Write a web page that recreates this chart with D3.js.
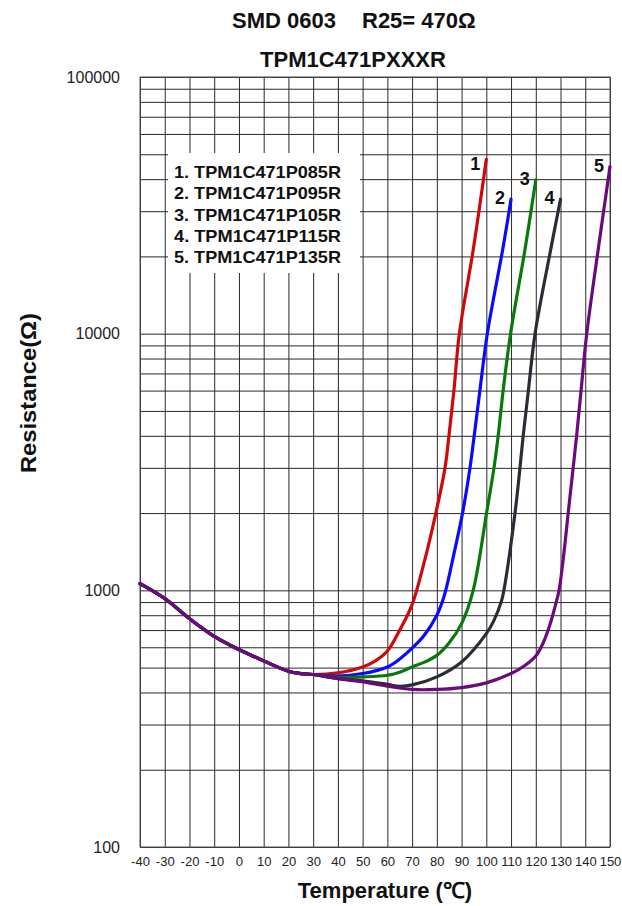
<!DOCTYPE html>
<html>
<head>
<meta charset="utf-8">
<script src="https://cdn.jsdelivr.net/npm/d3@7"></script>
<style>
  html, body { margin: 0; padding: 0; background: #fff; }
  svg { display: block; font-family: "Liberation Sans", Arial, sans-serif; }
</style>
</head>
<body>
<svg id="chart" width="622" height="906"></svg>
<script>
// ---------- data ----------
const titleLeft = "SMD 0603";
const titleRight = "R25= 470Ω";
const subTitle = "TPM1C471PXXXR";
const xTitle = "Temperature (℃)";
const yTitle = "Resistance(Ω)";

const xTicks = [-40,-30,-20,-10,0,10,20,30,40,50,60,70,80,90,100,110,120,130,140,150];
const yMajor = [100, 1000, 10000, 100000];

const seriesNames = ["1", "2", "3", "4", "5"];
const legendLabels = ["1. TPM1C471P085R", "2. TPM1C471P095R", "3. TPM1C471P105R", "4. TPM1C471P115R", "5. TPM1C471P135R"];
const seriesColors = ["#cc0a0a", "#0a0aff", "#0a780a", "#2c2c36", "#6a0a7c"];

// shared low-temperature branch
const commonT = [-40, -30, -20, -10, 0, 10, 20, 25, 30];
const commonR = [1062, 929, 776, 662, 588, 531, 484, 474, 470];

// individual branches
const s1T = [40, 50, 55, 60, 65, 70, 75, 79.6, 83.3, 84.9, 86.9, 89.1, 94.7, 100];
const s1R = [477, 503, 530, 580, 700, 880, 1300, 2000, 3000, 4000, 6000, 10000, 21200, 47800];

const s2T = [40, 50, 60, 65, 70, 75, 80, 82, 83.6, 87, 90.4, 93.4, 95.1, 97.4, 100.4, 106.6, 110];
const s2R = [463, 474, 503, 540, 595, 670, 800, 890, 1000, 1400, 2000, 3000, 4000, 6000, 10000, 21200, 33400];

const s3T = [40, 50, 60, 65.3, 70, 75, 80, 85, 90, 94.7, 100.1, 103.1, 104.8, 106.8, 109.8, 115.6, 120];
const s3R = [458, 460, 467, 481, 503, 525, 558, 625, 742, 1000, 2000, 3000, 4000, 6000, 10000, 21200, 39700];

const s4T = [40, 50, 60, 65, 70, 80, 90, 100, 103, 106.2, 107.1, 111.6, 113.6, 114.9, 117, 119.7, 126, 130];
const s4R = [453, 444, 430, 423, 428, 460, 526, 678, 760, 914, 1000, 2000, 3000, 4000, 6000, 10000, 21200, 33400];

const s5T = [40, 50, 60, 70, 80, 90, 100, 110, 115, 120, 123, 126, 128, 129.4, 131, 133.1, 135.1, 136.5, 138.3, 140.6, 145.2, 150];
const s5R = [453, 440, 423, 411, 411, 418, 436, 474, 505, 555, 625, 750, 880, 1000, 1300, 2000, 3000, 4000, 6000, 10000, 21200, 44800];

const branchT = [s1T, s2T, s3T, s4T, s5T];
const branchR = [s1R, s2R, s3R, s4R, s5R];

// ---------- layout ----------
const svg = d3.select("#chart");
const plotL = 140, plotR = 610, plotT = 77, plotB = 847;
const x = d3.scaleLinear().domain([-40, 150]).range([plotL, plotR]);
const y = d3.scaleLog().domain([100, 100000]).range([plotB, plotT]);

const yGrid = [];
for (let d = 100; d < 100000; d *= 10) {
  for (let m = 1; m <= 9; m++) yGrid.push(d * m);
}
yGrid.push(100000);

const gridColor = "#2a2a2a";

// vertical grid + x labels
const gx = svg.append("g")
  .attr("transform", `translate(0,${plotB})`)
  .call(d3.axisBottom(x).tickValues(xTicks).tickSize(-(plotB - plotT)).tickPadding(10).tickFormat(d => String(d)));
gx.select(".domain").remove();
gx.selectAll(".tick line").attr("stroke", gridColor).attr("stroke-width", 1);
gx.selectAll(".tick text").attr("font-size", 13).attr("fill", "#222")
  .attr("font-family", "'Liberation Sans', Arial, sans-serif");

// horizontal grid + y labels
const gy = svg.append("g")
  .attr("transform", `translate(${plotL},0)`)
  .call(d3.axisLeft(y).tickValues(yGrid).tickSize(-(plotR - plotL)).tickPadding(20)
    .tickFormat(v => yMajor.includes(v) ? String(v) : ""));
gy.select(".domain").remove();
gy.selectAll(".tick line").attr("stroke", gridColor).attr("stroke-width", 1);
gy.selectAll(".tick text").attr("font-size", 16).attr("fill", "#222")
  .attr("font-family", "'Liberation Sans', Arial, sans-serif");

// border
svg.append("rect")
  .attr("x", plotL).attr("y", plotT)
  .attr("width", plotR - plotL).attr("height", plotB - plotT)
  .attr("fill", "none").attr("stroke", "#555").attr("stroke-width", 1);

// legend box (white, covering grid)
const legX = 168, legY = 153, legW = 192, legH = 120;
svg.append("rect")
  .attr("x", legX).attr("y", legY).attr("width", legW).attr("height", legH)
  .attr("fill", "#fff");
svg.append("g").selectAll("text")
  .data(legendLabels)
  .join("text")
  .attr("x", legX + 6)
  .attr("y", (d, i) => legY + 24.7 + i * 21.4)
  .attr("font-size", 16.5)
  .attr("font-weight", "bold")
  .attr("fill", "#111")
  .attr("textLength", 167)
  .attr("lengthAdjust", "spacingAndGlyphs")
  .text(d => d);

// curves
const line = d3.line()
  .x(d => x(d[0]))
  .y(d => y(d[1]))
  .curve(d3.curveCatmullRom.alpha(0.5));

const seriesData = seriesNames.map((name, i) => {
  const pts = commonT.map((t, k) => [t, commonR[k]])
    .concat(branchT[i].map((t, k) => [t, branchR[i][k]]));
  return { name, color: seriesColors[i], pts };
});

svg.append("g").selectAll("path")
  .data(seriesData)
  .join("path")
  .attr("d", d => line(d.pts))
  .attr("fill", "none")
  .attr("stroke", d => d.color)
  .attr("stroke-width", 3.2)
  .attr("stroke-linejoin", "round")
  .attr("stroke-linecap", "round");

// curve end labels
svg.append("g").selectAll("text")
  .data(seriesData)
  .join("text")
  .attr("x", d => x(d.pts[d.pts.length - 1][0]) - 11)
  .attr("y", (d, i) => y(d.pts[d.pts.length - 1][1]) + (i === 0 ? 11 : 5))
  .attr("text-anchor", "middle")
  .attr("font-size", 18)
  .attr("font-weight", "bold")
  .attr("fill", "#111")
  .text(d => d.name);

// titles
svg.append("text").attr("x", 232).attr("y", 28)
  .attr("font-size", 22).attr("font-weight", "bold").attr("fill", "#111")
  .text(titleLeft);
svg.append("text").attr("x", 362).attr("y", 28)
  .attr("font-size", 22).attr("font-weight", "bold").attr("fill", "#111")
  .text(titleRight);
svg.append("text").attr("x", 353).attr("y", 67)
  .attr("text-anchor", "middle")
  .attr("font-size", 22).attr("font-weight", "bold").attr("fill", "#111")
  .text(subTitle);

// axis titles
svg.append("text").attr("x", 385).attr("y", 898)
  .attr("text-anchor", "middle")
  .attr("font-size", 22).attr("font-weight", "bold").attr("fill", "#111")
  .text(xTitle);
svg.append("text")
  .attr("transform", "translate(36,393) rotate(-90)")
  .attr("text-anchor", "middle")
  .attr("font-size", 22).attr("font-weight", "bold").attr("fill", "#111")
  .attr("textLength", 160).attr("lengthAdjust", "spacingAndGlyphs")
  .text(yTitle);
</script>
</body>
</html>
